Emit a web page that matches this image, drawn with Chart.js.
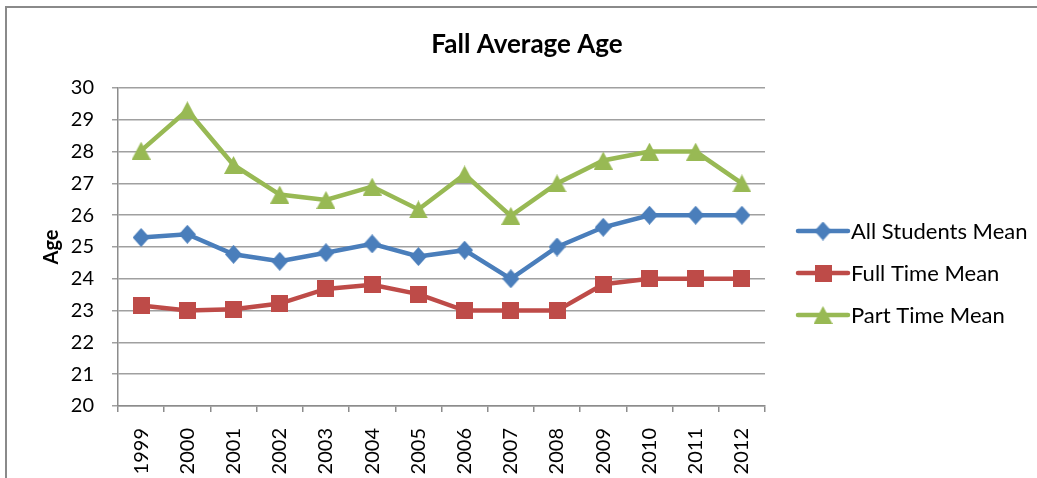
<!DOCTYPE html>
<html>
<head>
<meta charset="utf-8">
<script src="https://cdn.jsdelivr.net/npm/chart.js@4/dist/chart.umd.min.js"></script>
<style>
  html, body { margin: 0; padding: 0; background: #ffffff; }
  #wrap { width: 1037px; height: 478px; position: relative; }
</style>
</head>
<body>
<div id="wrap"><canvas id="c" width="1037" height="478"></canvas></div>
<script>
// ---- Data ----
const chartTitle = "Fall Average Age";
const yAxisTitle = "Age";
const years = ["1999","2000","2001","2002","2003","2004","2005","2006","2007","2008","2009","2010","2011","2012"];
const allStudentsMean = [25.3, 25.4, 24.77, 24.55, 24.82, 25.1, 24.7, 24.9, 24.0, 25.0, 25.62, 26.0, 26.0, 26.0];
const fullTimeMean    = [23.16, 23.0, 23.04, 23.22, 23.68, 23.81, 23.52, 23.0, 23.0, 23.0, 23.83, 24.0, 24.0, 24.0];
const partTimeMean    = [28.03, 29.3, 27.58, 26.65, 26.48, 26.9, 26.18, 27.28, 25.98, 27.0, 27.72, 28.0, 28.0, 27.0];
const yTicks = { min: 20, max: 30, step: 1 };
const seriesNames = ["All Students Mean", "Full Time Mean", "Part Time Mean"];

const FONT = "Lato, 'Liberation Sans', sans-serif";

function makeMarker(shape, color) {
  const c = document.createElement('canvas');
  const w = shape === 'diamond' ? 17 : (shape === 'square' ? 17 : 19);
  const h = shape === 'diamond' ? 19 : (shape === 'square' ? 17 : 18);
  c.width = w; c.height = h;
  const x = c.getContext('2d');
  x.fillStyle = color;
  x.beginPath();
  if (shape === 'diamond') {
    x.moveTo(w / 2, 0); x.lineTo(w, h / 2); x.lineTo(w / 2, h); x.lineTo(0, h / 2);
  } else if (shape === 'square') {
    x.rect(0, 0, w, h);
  } else {
    x.moveTo(w / 2, 0); x.lineTo(w, h); x.lineTo(0, h);
  }
  x.closePath();
  x.fill();
  return c;
}

const colors = ["#4A7EBB", "#BE4B48", "#98B954"];
const markers = [makeMarker('diamond', colors[0]), makeMarker('square', colors[1]), makeMarker('triangle', colors[2])];
const seriesData = [allStudentsMean, fullTimeMean, partTimeMean];

const datasets = seriesNames.map((name, i) => ({
  label: name,
  data: seriesData[i],
  borderColor: colors[i],
  backgroundColor: colors[i],
  borderWidth: 4.5,
  pointStyle: markers[i],
  pointRadius: 9,
  pointHoverRadius: 9,
  tension: 0,
  fill: false
}));

const framePlugin = {
  id: 'frame',
  beforeDraw(chart) {
    const ctx = chart.ctx;
    ctx.save();
    ctx.fillStyle = '#ffffff';
    ctx.fillRect(0, 0, chart.width, chart.height);
    ctx.strokeStyle = '#8a8a8a';
    ctx.lineWidth = 2;
    ctx.beginPath();
    ctx.moveTo(6, chart.height);
    ctx.lineTo(6, 7);
    ctx.lineTo(chart.width, 7);
    ctx.stroke();
    ctx.restore();
  },
  afterDraw(chart) {
    const ctx = chart.ctx;
    const area = chart.chartArea;
    ctx.save();
    // title
    ctx.fillStyle = '#000000';
    ctx.font = "bold 26px " + FONT;
    ctx.textAlign = 'center';
    ctx.textBaseline = 'middle';
    ctx.fillText(chartTitle, 527, 45);
    // legend
    ctx.font = "22px " + FONT;
    ctx.textAlign = 'left';
    chart.data.datasets.forEach((ds, i) => {
      const y = 231 + i * 42;
      const x0 = area.right + 33;
      ctx.strokeStyle = ds.borderColor;
      ctx.lineWidth = 4.5;
      ctx.lineCap = 'round';
      ctx.beginPath();
      ctx.moveTo(x0, y);
      ctx.lineTo(x0 + 50, y);
      ctx.stroke();
      const m = ds.pointStyle;
      ctx.drawImage(m, x0 + 25 - m.width / 2, y - m.height / 2);
      ctx.fillStyle = '#000000';
      ctx.fillText(ds.label, x0 + 53, y + 1);
    });
    ctx.restore();
  }
};

new Chart(document.getElementById('c'), {
  type: 'line',
  data: { labels: years, datasets: datasets },
  options: {
    responsive: false,
    animation: false,
    devicePixelRatio: 1,
    layout: { padding: { top: 88, right: 272, left: 0, bottom: 0 } },
    plugins: {
      legend: { display: false },
      title: { display: false },
      tooltip: { enabled: false }
    },
    scales: {
      x: {
        offset: true,
        afterFit(scale) { scale.height = 72; },
        grid: { display: true, drawOnChartArea: false, drawTicks: true, tickLength: 6, offset: true, color: '#8c8c8c', lineWidth: 1.5 },
        border: { display: true, color: '#8c8c8c', width: 1.5 },
        ticks: {
          color: '#000000',
          font: { family: FONT, size: 20 },
          minRotation: 90, maxRotation: 90,
          padding: 16,
          autoSkip: false
        }
      },
      y: {
        min: yTicks.min, max: yTicks.max,
        afterFit(scale) { scale.width = 118; },
        grid: { color: '#a0a0a0', lineWidth: 1.5, tickLength: 6, drawTicks: true },
        border: { display: true, color: '#8c8c8c', width: 1.5 },
        ticks: {
          stepSize: yTicks.step,
          color: '#000000',
          font: { family: FONT, size: 20 },
          padding: 18
        },
        title: {
          display: true,
          text: yAxisTitle,
          color: '#000000',
          font: { family: FONT, size: 20, weight: 'bold' },
          padding: { top: 40, bottom: 0 }
        }
      }
    }
  },
  plugins: [framePlugin]
});
</script>
</body>
</html>
